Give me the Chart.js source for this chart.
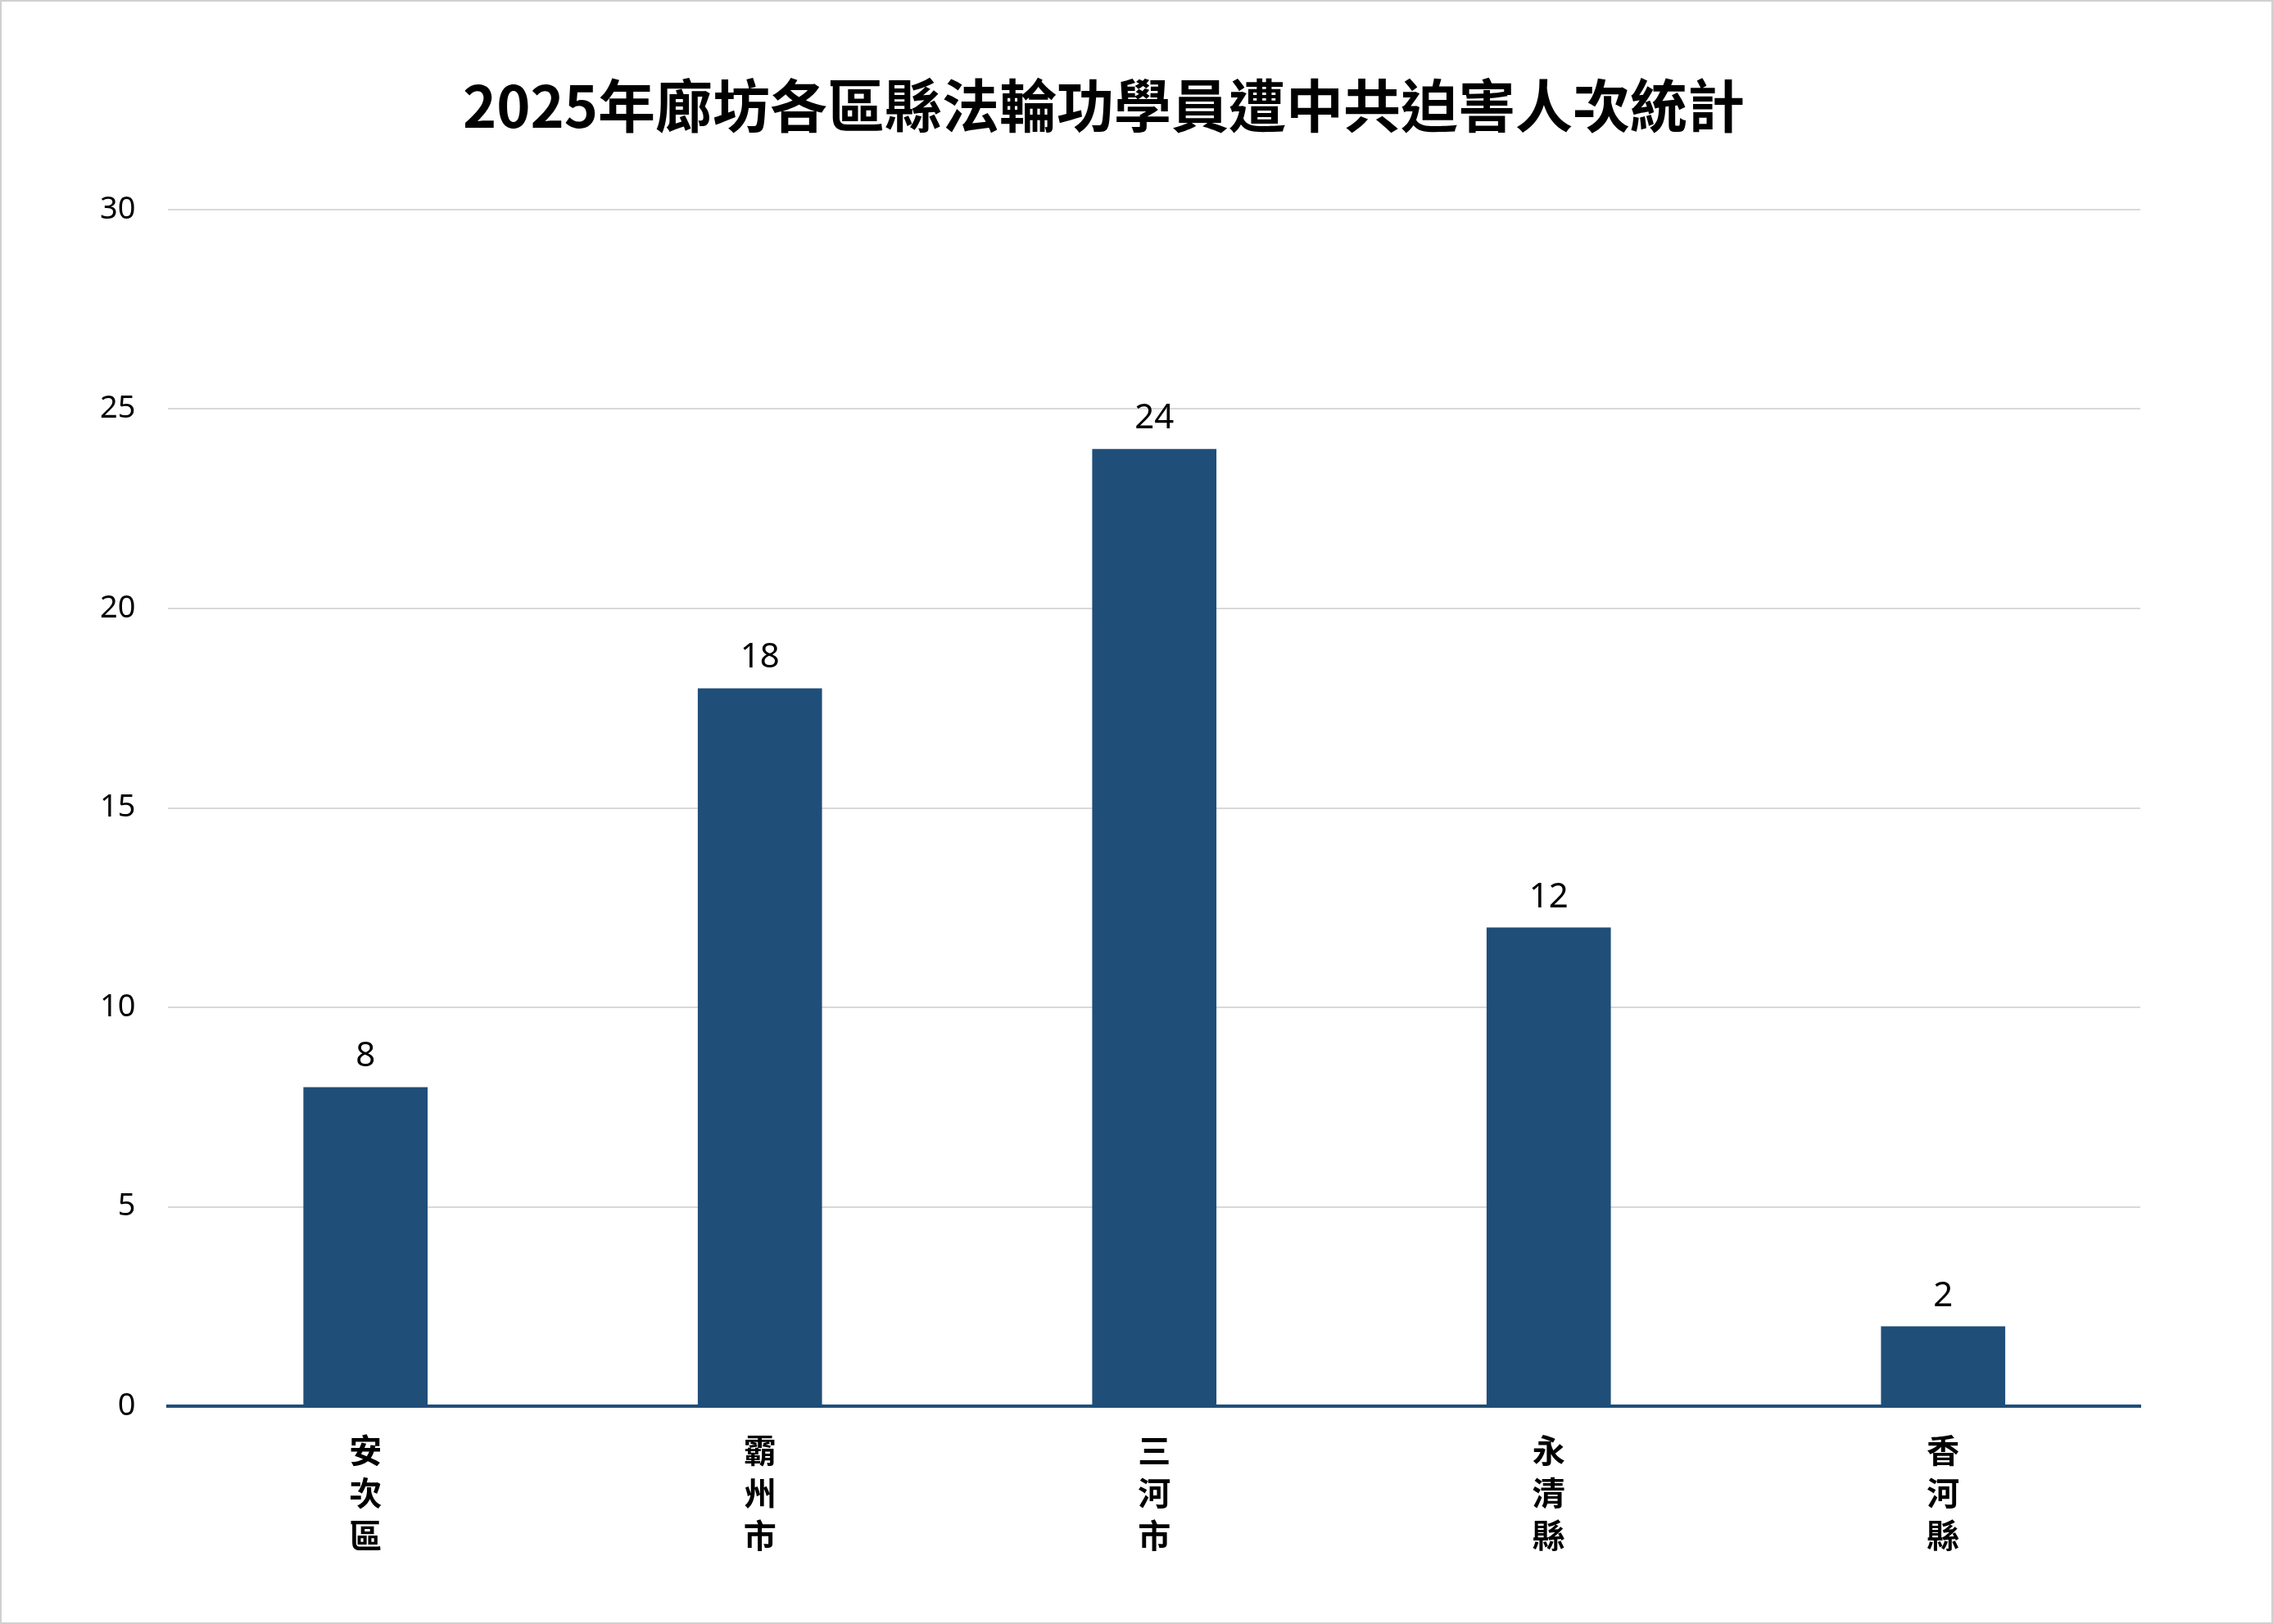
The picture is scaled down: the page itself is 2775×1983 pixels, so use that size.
<!DOCTYPE html>
<html><head><meta charset="utf-8">
<script src="https://cdn.jsdelivr.net/npm/chart.js@4/dist/chart.umd.min.js"></script>
<style>html,body{margin:0;padding:0;background:#fff}#w{width:2771px;height:1979px;border:2px solid #d0d0d0;}</style>
</head><body><div id="w"><canvas id="c"></canvas></div>
<script>
const categories = [["安","次","區"],["霸","州","市"],["三","河","市"],["永","清","縣"],["香","河","縣"]];
const values = [8, 18, 24, 12, 2];
const yTicks = [0, 5, 10, 15, 20, 25, 30];
const titleText = "2025年廊坊各區縣法輪功學員遭中共迫害人次統計";
const font = "'Noto Sans CJK TC','Noto Sans', sans-serif";
const labelPlugin = {
  id: 'vals',
  afterDatasetsDraw(chart) {
    const ctx = chart.ctx;
    const meta = chart.getDatasetMeta(0);
    ctx.save();
    ctx.font = "42px 'Noto Sans', sans-serif";
    ctx.fillStyle = '#000';
    ctx.textAlign = 'center';
    ctx.textBaseline = 'bottom';
    meta.data.forEach((b, i) => ctx.fillText(String(values[i]), b.x, b.y - 16));
    ctx.restore();
  }
};
new Chart(document.getElementById('c'), {
  type: 'bar',
  data: { labels: categories, datasets: [{ data: values, backgroundColor: '#1f4e79', categoryPercentage: 1, barPercentage: 0.315 }] },
  options: {
    responsive: true, maintainAspectRatio: false, animation: false,
    layout: { padding: { left: 80, right: 160, top: 30, bottom: 60 } },
    plugins: {
      legend: { display: false }, tooltip: { enabled: false },
      title: { display: true, text: titleText, color: '#000', font: { family: font, size: 70, weight: 'bold' }, padding: { top: 55, bottom: 85 } }
    },
    scales: {
      y: { min: 0, max: 30, afterBuildTicks: a => { a.ticks = yTicks.map(v => ({ value: v })); },
        grid: { color: '#d9d9d9', lineWidth: 2, drawTicks: false }, border: { display: false },
        ticks: { padding: 40, color: '#000', font: { family: "'Noto Sans', sans-serif", size: 38 } } },
      x: { grid: { display: false }, border: { color: '#1f4e79', width: 4 },
        ticks: { padding: 20, color: '#000', font: { family: font, size: 40, weight: 'bold', lineHeight: 1.3 } } }
    }
  },
  plugins: [labelPlugin]
});
</script></body></html>
